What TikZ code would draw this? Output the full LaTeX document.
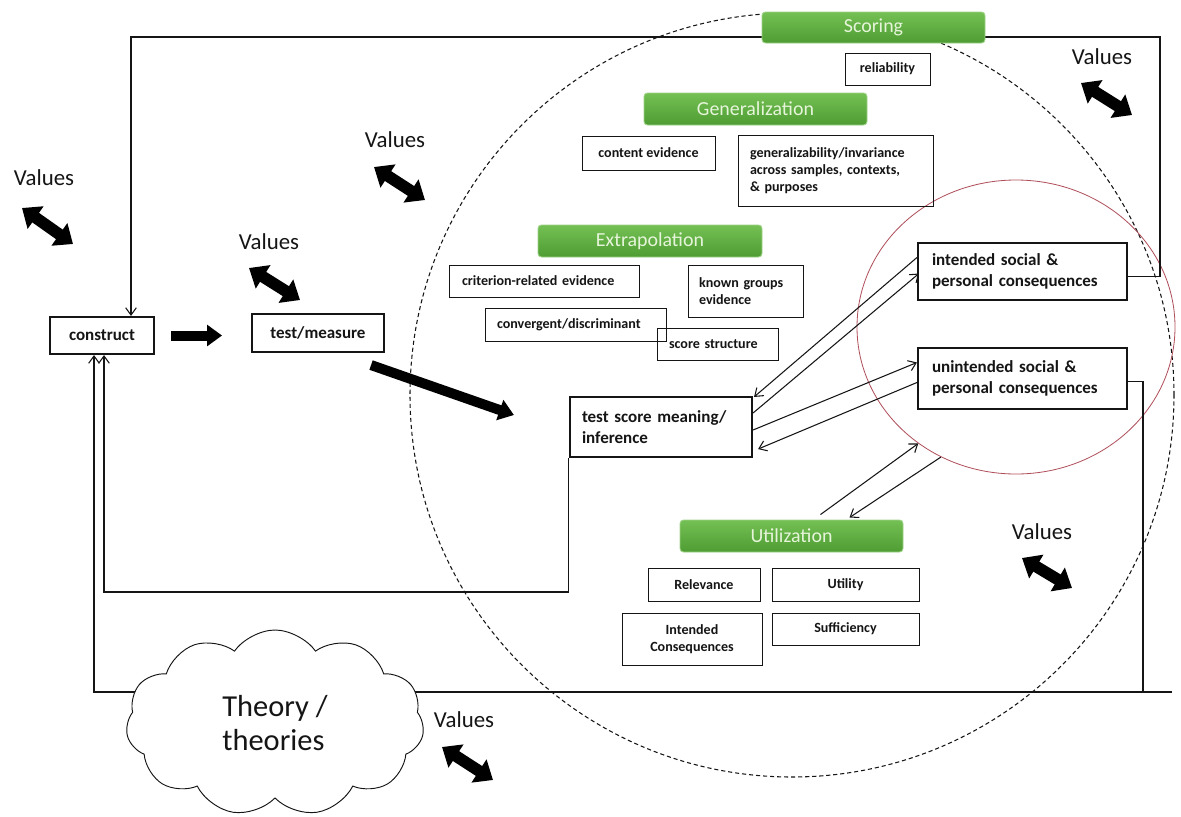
\documentclass[tikz,border=0pt]{standalone}
\usepackage{fontspec}
\setmainfont{Carlito}
\usetikzlibrary{arrows.meta, calc, shapes.geometric, shapes.symbols}
\definecolor{ink}{HTML}{151515}
\definecolor{grtop}{HTML}{74C054}
\definecolor{grbot}{HTML}{4E9C33}
\definecolor{grrim}{HTML}{9ED286}
\definecolor{grtext}{HTML}{E6F5DA}
\definecolor{ringred}{HTML}{B0505C}

\begin{document}
\begin{tikzpicture}[x=0.3mm, y=-0.3mm,
  >={Straight Barb[length=2.2mm, width=3.2mm]},
  sz/.style 2 args={minimum width=#1*0.3mm, minimum height=#2*0.3mm},
  lt/.style={text width=#1*0.3mm, align=left},
  stage/.style={
    rounded corners=3pt, top color=grtop, bottom color=grbot,
    draw=grrim, line width=0.8pt, text=grtext, inner sep=0pt,
    font=\fontsize{17}{20}\selectfont
  },
  ebox/.style={
    draw=ink, line width=0.8pt, inner sep=0pt, text=ink,
    font=\fontsize{12}{14.5}\selectfont\bfseries
  },
  mbox/.style={
    draw=ink, line width=1.8pt, inner sep=0pt, text=ink,
    font=\fontsize{14.5}{17.5}\selectfont\bfseries
  },
  vals/.style={text=ink, inner sep=0pt, font=\fontsize{19.5}{22}\selectfont},
  link/.style={line width=0.9pt, draw=ink},
  fat/.style={line width=3mm, draw=black, -{Triangle[length=4.5mm, width=6.2mm]}},
  dbl/.style={line width=3.5mm, draw=black,
    {Triangle[length=5mm, width=8mm]}-{Triangle[length=5mm, width=8mm]}},
]

% Background
\fill[white] (0,0) rectangle (1181,816);
\useasboundingbox (0,0) rectangle (1181,816);

% =============================================
% Dashed frame circle and consequences ring
% =============================================
\node[draw=ink, line width=0.9pt, dash pattern=on 3.5pt off 2.5pt, circle,
      minimum size=764*0.3mm, inner sep=0pt] (frame) at (792,395) {};
\node[draw=ringred, line width=0.7pt, ellipse, sz={318}{294}, inner sep=0pt]
  (conseq) at (1016,327) {};

% =============================================
% Main chain
% =============================================
\node[mbox, sz={104}{37}] (construct) at (102,335.5) {construct};
\node[mbox, sz={132}{38}] (tm) at (318,333) {test/measure};
\node[mbox, sz={182}{60}, lt=158] (tsm) at (661,427)
  {test score  meaning/\\inference};

\node[mbox, sz={209}{57}, lt=181] (intended) at (1022.5,271.5)
  {intended social \&\\personal consequences};
\node[mbox, sz={209}{61}, lt=181] (unintended) at (1022.5,378.5)
  {unintended social \&\\personal consequences};

% Feedback lines back to construct
\coordinate (tr) at (1160,37);
\coordinate (tl) at (131,37);
\coordinate (br) at (1143,692);
\coordinate (bl) at (94,692);
\coordinate (cb) at (104,592);

\draw[link, ->] ($(intended.east)+(0,5)$) -| (tr) -- (tl) -- (tl |- construct.north);
\draw[link, ->] ($(unintended.east)+(0,3)$) -| (br) -- (bl) -- (bl |- construct.south);
\draw[link] (br) -- ++(29,0);
\draw[link, ->] (tsm.south west) |- (cb) -- (cb |- construct.south);

% =============================================
% Scoring / Generalization
% =============================================
\node[stage, sz={223}{31}] (scoring) at (873.5,27.5) {Scoring};
\node[ebox, sz={85}{32}] (reliab) at (887.5,69) {reliability};

\node[stage, sz={223}{32}] (general) at (755.5,109) {Generalization};
\node[ebox, sz={133}{34}] (content) at (648.5,153) {content evidence};
\node[ebox, sz={195}{71}, lt=171] (invar) at (835.5,170.5)
  {generalizability/invariance\\across samples, contexts,\\\& purposes};

% =============================================
% Extrapolation
% =============================================
\node[stage, sz={224}{32}] (extrap) at (650,241) {Extrapolation};
\node[ebox, sz={190}{32}, lt=164] (crit) at (544,281) {criterion-related evidence};
\node[ebox, sz={115}{52}, lt=93] (known) at (745.5,291) {known groups\\evidence};
\node[ebox, sz={181}{33}, lt=157] (conv) at (575.5,324.5) {convergent/discriminant};
\node[ebox, sz={121}{32}, lt=97] (struct) at (717.5,344) {score structure};

% =============================================
% Utilization
% =============================================
\node[stage, sz={223}{32}] (util) at (791.5,536) {Utilization};
\node[ebox, sz={112}{33}] (relev) at (704,584.5) {Relevance};
\node[ebox, sz={147}{33}] (utility) at (845.5,584.5) {Utility};
\node[ebox, sz={140}{52}, align=center] (intcons) at (692,639)
  {Intended\\Consequences};
\node[ebox, sz={147}{32}] (suffic) at (845.5,629) {Sufficiency};

% Theory cloud (sits over the bottom line)
\node[cloud, draw=ink, line width=0.8pt, fill=white, cloud puffs=11,
      cloud puff arc=110, cloud ignores aspect, sz={298}{186}, inner sep=0pt,
      align=left, text=ink, font=\fontsize{26}{29}\selectfont]
  (theory) at (275,723) {Theory /\\theories};

% =============================================
% Arrows
% =============================================
\draw[fat] ($(construct.east)+(16,0)$) -- ++(51,0);
\draw[fat] ($(tm.south east)+(-14,12)$) -- ($(tsm.west)+(-55,-12)$);

\draw[link, ->] ($(intended.west)+(0,-14)$) -- ($(tsm.north east)+(1,1)$);
\draw[link, ->] ($(tsm.east)+(0,-14)$) -- ($(intended.west)+(2,2)$);
\draw[link, ->] ($(tsm.east)+(0,3)$) -- ($(unintended.west)+(0,-16)$);
\draw[link, ->] ($(unintended.west)+(0,4)$) -- ($(tsm.south east)+(5,-9)$);

\draw[link, ->] ($(util.north)+(29,-5)$) -- (conseq.230);
\draw[link, ->] (conseq.240) -- ($(util.north)+(58,-2)$);

% =============================================
% Values
% =============================================
\node[vals] (v1) at (44,178) {Values};
\node[vals] (v2) at (395,140) {Values};
\node[vals] (v3) at (269,242) {Values};
\node[vals] (v4) at (1102,57) {Values};
\node[vals] (v5) at (1042,532) {Values};
\node[vals] (v6) at (464,720) {Values};

\draw[dbl] ($(v1)+(-22,30)$) -- ++(51,36);
\draw[dbl] ($(v2)+(-21,27)$) -- ++(51,33);
\draw[dbl] ($(v3)+(-20,26)$) -- ++(51,32);
\draw[dbl] ($(v4)+(-21,26)$) -- ++(51,32);
\draw[dbl] ($(v5)+(-20,26)$) -- ++(50,30);
\draw[dbl] ($(v6)+(-22,27)$) -- ++(51,33);

\end{tikzpicture}
\end{document}
